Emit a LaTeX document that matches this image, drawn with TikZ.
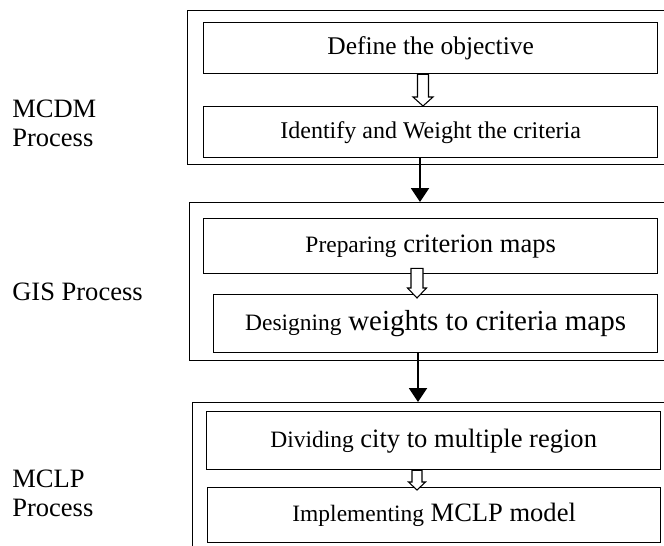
\documentclass[tikz,border=0pt]{standalone}
\usepackage{fontspec}
\setmainfont{Liberation Serif}
\usetikzlibrary{arrows.meta,calc}
\newcommand\smallword{\fontsize{17.6pt}{21pt}\selectfont}
\newcommand\mainword{\fontsize{19.9pt}{21.75pt}\selectfont}
\newcommand\bigword{\fontsize{21.75pt}{24pt}\selectfont}
% start, end, shaft half width, head half width, head length (px)
\newcommand\hollowarrow[5]{%
  \draw[hollowtip] ($(#1)+(-#3,0)$) -- ($(#2)+(-#3,-#5)$) -- ($(#2)+(-#4,-#5)$)
    -- (#2) -- ($(#2)+(#4,-#5)$) -- ($(#2)+(#3,-#5)$) -- ($(#1)+(#3,0)$) -- cycle;}
\tikzset{
  outerbox/.style={draw, line width=1.1pt, anchor=north west, inner sep=0pt},
  innerbox/.style={draw, line width=1pt, anchor=north west, inner sep=0pt,
    align=center, font=\mainword},
  blk/.style={line width=1.5pt, -{Triangle[width=13.5pt,length=10.5pt]}},
  hollowtip/.style={draw, line width=0.8pt, fill=white},
  lbl/.style={inner sep=0pt, align=left, font=\mainword}
}
\begin{document}
\begin{tikzpicture}[x=0.75pt,y=-0.75pt]
\useasboundingbox (0,0) rectangle (664,546);
\clip (0,0) rectangle (664,546);
\fill[white] (0,0) rectangle (664,546);

% outer process boxes
\node[outerbox, minimum width=369.75pt, minimum height=115.5pt] (mcdm) at (187,10) {};
\node[outerbox, minimum width=368.25pt, minimum height=118.5pt] (gis) at (189,202) {};
\node[outerbox, minimum width=366pt, minimum height=120pt] (mclp) at (192,402) {};

% inner step boxes
\node[innerbox, minimum width=340.5pt, minimum height=38.25pt, font=\fontsize{19.1pt}{22pt}\selectfont] (b1) at (203,22)
  {Define the objective};
\node[innerbox, minimum width=340.5pt, minimum height=38.25pt, font=\fontsize{18pt}{21pt}\selectfont] (b2) at (203,106)
  {Identify and Weight the criteria};
\node[innerbox, minimum width=340.5pt, minimum height=41.25pt] (b3) at (203,218)
  {{\smallword Preparing} criterion maps};
\node[innerbox, minimum width=333pt, minimum height=43.5pt] (b4) at (213,294)
  {{\smallword Designing} {\bigword weights to criteria maps}};
\node[innerbox, minimum width=340.5pt, minimum height=43.5pt] (b5) at (206,411)
  {{\smallword Dividing} city to multiple region};
\node[innerbox, minimum width=339.75pt, minimum height=41.25pt] (b6) at (207,487)
  {{\smallword Implementing} MCLP model};

% side labels
\node[lbl, anchor=north west] (l1) at (12,99.5) {MCDM\\Process};
\node[lbl, anchor=base west] (l2) at (12,300) {GIS Process};
\node[lbl, anchor=north west] (l3) at (12,469.5) {MCLP\\Process};

% connectors between processes
\coordinate (ax1) at (420,0);
\coordinate (ax2) at (418,0);
\draw[blk] (b2.south -| ax1) -- (gis.north -| ax1);
\draw[blk] (b4.south -| ax2) -- (mclp.north -| ax2);

% hollow arrows inside processes
\coordinate (hx1) at (423,0);
\coordinate (hx2) at (417,0);
\coordinate (h1a) at (b1.south -| hx1);
\coordinate (h1b) at (b2.north -| hx1);
\hollowarrow{h1a}{h1b}{5.5}{10}{9}
\coordinate (h2a) at ($(b3.south -| hx2)+(0,-6)$);
\coordinate (h2b) at ($(b4.north -| hx2)+(0,4)$);
\hollowarrow{h2a}{h2b}{6}{9.5}{10}
\coordinate (h3a) at (b5.south -| hx2);
\coordinate (h3b) at ($(b6.north -| hx2)+(0,3)$);
\hollowarrow{h3a}{h3b}{5}{8.5}{8}
\end{tikzpicture}
\end{document}
